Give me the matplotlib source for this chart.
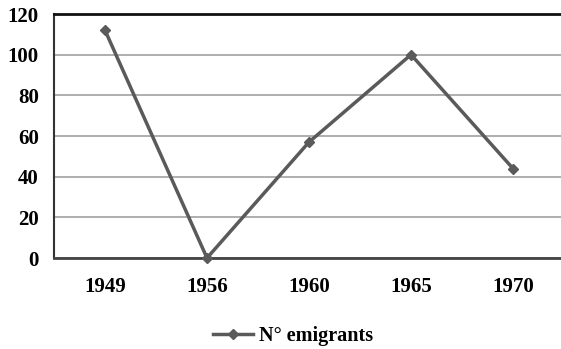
import matplotlib.pyplot as plt

years = ['1949', '1956', '1960', '1965', '1970']
emigrants = [112, 0, 57, 100, 44]
y_ticks = [0, 20, 40, 60, 80, 100, 120]

plt.rcParams['font.family'] = 'Liberation Serif'
plt.rcParams['font.weight'] = 'bold'

fig = plt.figure(figsize=(5.61, 3.49), dpi=100)
ax = fig.add_axes([54 / 561, 91 / 349, 510 / 561, 244 / 349])

x = range(len(years))
line, = ax.plot(x, emigrants, color='#5a5a5a', linewidth=2.5, marker='D',
                markersize=5.5, clip_on=False, zorder=3)

ax.set_xlim(-0.5, len(years) - 0.5)
ax.set_ylim(0, 120)
ax.set_yticks(y_ticks)
ax.set_xticks(list(x))
ax.set_xticklabels(years)
ax.yaxis.grid(True, color='#a8a8a8', linewidth=1.3)
ax.set_axisbelow(True)

ax.tick_params(axis='both', length=0, labelsize=15)
ax.tick_params(axis='x', pad=14)
ax.tick_params(axis='y', pad=11)

ax.spines['top'].set_color('#111111')
ax.spines['top'].set_linewidth(2)
ax.spines['left'].set_color('#333333')
ax.spines['left'].set_linewidth(1.5)
ax.spines['bottom'].set_color('#444444')
ax.spines['bottom'].set_linewidth(2)
ax.spines['right'].set_visible(False)

fig.legend([line], ['N° emigrants'], loc='center', bbox_to_anchor=(293 / 561, 13 / 349),
           frameon=False, fontsize=14.5, handlelength=2.0, handletextpad=0.3)

fig.savefig('out.png', dpi=100)
